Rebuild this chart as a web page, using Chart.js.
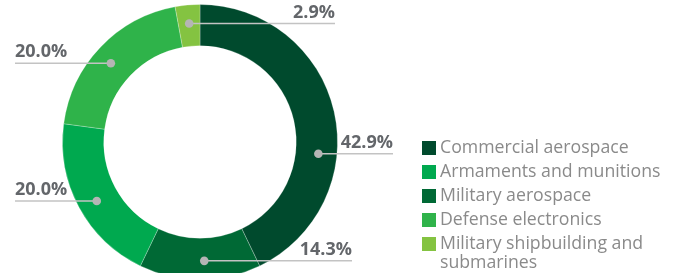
<!DOCTYPE html>
<html>
<head>
<meta charset="utf-8">
<script src="https://cdn.jsdelivr.net/npm/chart.js@4.4.1/dist/chart.umd.min.js"></script>
<style>
  html, body { margin: 0; padding: 0; background: #fff; }
  #wrap { width: 675px; height: 273px; overflow: hidden; position: relative; }
  canvas { display: block; }
</style>
</head>
<body>
<div id="wrap">
  <canvas id="donut" width="675" height="286"></canvas>
</div>
<script>
// slices in drawing order (clockwise from 12 o'clock)
const categories = ['Commercial aerospace', 'Military aerospace', 'Armaments and munitions', 'Defense electronics', ['Military shipbuilding and', 'submarines']];
const shares = [42.9, 14.3, 20.0, 20.0, 2.9];
const sliceColors = ['#004a2d', '#006935', '#00a94f', '#2fb34a', '#84c341'];
// legend lists the slices in this order
const legendOrder = [0, 2, 1, 3, 4];

// callout layout: where along each arc the dot sits, and where its line ends
const dotFrac = [0.62, 0.46, 0.48, 0.47, 0.5];
const lineEndX = [393, 352, 15, 15, 335];

const calloutPlugin = {
    id: 'callouts',
    afterDatasetsDraw(chart) {
        const ctx = chart.ctx;
        const arcs = chart.getDatasetMeta(0).data;
        ctx.save();
        arcs.forEach((arc, i) => {
            const p = arc.getProps(['x', 'y', 'startAngle', 'endAngle', 'innerRadius', 'outerRadius'], true);
            const a = p.startAngle + (p.endAngle - p.startAngle) * dotFrac[i];
            const r = p.innerRadius + (p.outerRadius - p.innerRadius) * 0.55;
            const dx = p.x + Math.cos(a) * r;
            const dy = p.y + Math.sin(a) * r;
            const endX = lineEndX[i];

            ctx.strokeStyle = '#c3c3c3';
            ctx.lineWidth = 1.5;
            ctx.beginPath();
            ctx.moveTo(dx, dy);
            ctx.lineTo(endX, dy);
            ctx.stroke();

            ctx.fillStyle = '#b5b5b5';
            ctx.beginPath();
            ctx.arc(dx, dy, 4.3, 0, Math.PI * 2);
            ctx.fill();

            ctx.fillStyle = '#63666a';
            ctx.font = 'bold 18px "Open Sans"';
            ctx.textBaseline = 'alphabetic';
            ctx.textAlign = endX > dx ? 'right' : 'left';
            ctx.fillText(shares[i].toFixed(1) + '%', endX, dy - 6);
        });
        ctx.restore();
    }
};

const legendPlugin = {
    id: 'sideLegend',
    afterDraw(chart) {
        const ctx = chart.ctx;
        ctx.save();
        ctx.font = '17.7px "Open Sans"';
        ctx.textBaseline = 'middle';
        ctx.textAlign = 'left';
        let y = 148;
        legendOrder.forEach(idx => {
            ctx.fillStyle = sliceColors[idx];
            ctx.fillRect(422, y - 7, 14, 14);
            const lines = Array.isArray(categories[idx]) ? categories[idx] : [categories[idx]];
            ctx.fillStyle = '#8a8a8a';
            lines.forEach((t, k) => {
                ctx.fillText(t, 440, y + k * 19);
            });
            y += 24;
        });
        ctx.restore();
    }
};

const ctx = document.getElementById('donut').getContext('2d');
new Chart(ctx, {
    type: 'doughnut',
    data: {
        labels: categories,
        datasets: [{
            data: shares,
            backgroundColor: sliceColors,
            borderColor: 'rgba(255,255,255,0.25)',
            borderWidth: 1,
            hoverOffset: 0,
            offset: 0
        }]
    },
    options: {
        responsive: false,
        animation: false,
        events: [],
        cutout: '70%',
        layout: {
            padding: { left: 62, right: 337, top: 4, bottom: 6 }
        },
        plugins: {
            legend: { display: false },
            tooltip: { enabled: false }
        }
    },
    plugins: [calloutPlugin, legendPlugin]
});
</script>
</body>
</html>
